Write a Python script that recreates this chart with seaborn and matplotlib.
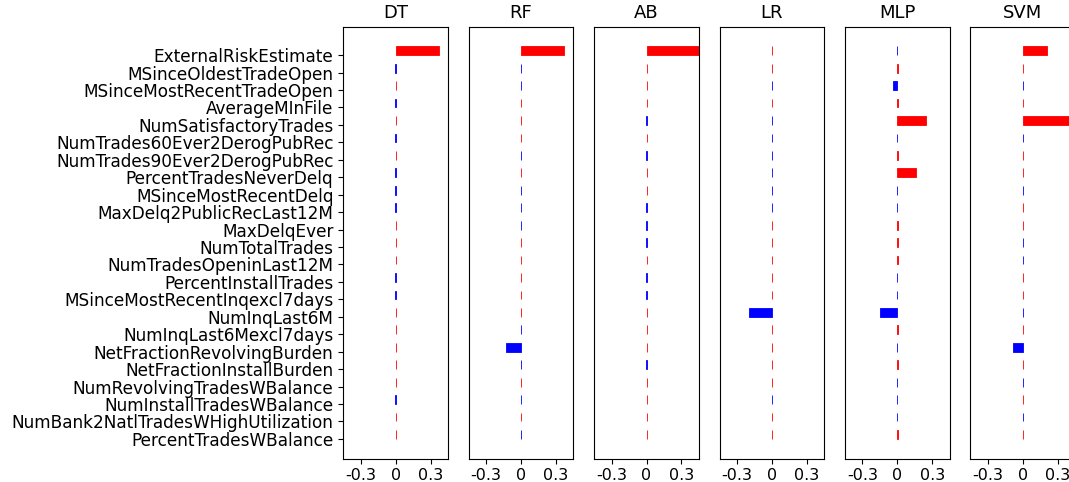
import numpy as np
import pandas as pd
import matplotlib
matplotlib.use("Agg")
import matplotlib.pyplot as plt
import seaborn as sns

# Feature names (top to bottom)
features = [
    "ExternalRiskEstimate", "MSinceOldestTradeOpen", "MSinceMostRecentTradeOpen",
    "AverageMInFile", "NumSatisfactoryTrades", "NumTrades60Ever2DerogPubRec",
    "NumTrades90Ever2DerogPubRec", "PercentTradesNeverDelq", "MSinceMostRecentDelq",
    "MaxDelq2PublicRecLast12M", "MaxDelqEver", "NumTotalTrades",
    "NumTradesOpeninLast12M", "PercentInstallTrades", "MSinceMostRecentInqexcl7days",
    "NumInqLast6M", "NumInqLast6Mexcl7days", "NetFractionRevolvingBurden",
    "NetFractionInstallBurden", "NumRevolvingTradesWBalance", "NumInstallTradesWBalance",
    "NumBank2NatlTradesWHighUtilization", "PercentTradesWBalance",
]

models = ["DT", "RF", "AB", "LR", "MLP", "SVM"]

# Feature effects per model (near-zero ones are tiny +/- values)
dt = [0.37, -0.001, 0.001, -0.001, 0.001, -0.001, 0.001, -0.001, -0.001, -0.001, 0.001, 0.001,
      0.001, -0.001, -0.001, 0.001, 0.001, 0.001, 0.001, 0.001, -0.001, 0.001, 0.001]
rf = [0.37, -0.001, -0.001, 0.001, 0.001, 0.001, -0.001, 0.001, -0.001, -0.001, -0.001, 0.001,
      0.001, 0.001, 0.001, 0.001, -0.001, -0.13, -0.001, 0.001, -0.001, 0.001, -0.001]
ab = [0.50, 0.001, 0.001, 0.001, -0.001, 0.001, -0.001, 0.001, 0.001, -0.001, -0.001, -0.001,
      0.001, -0.001, -0.001, 0.001, 0.001, 0.001, -0.001, 0.001, 0.001, 0.001, 0.001]
lr = [0.001, 0.001, -0.001, 0.001, -0.001, -0.001, -0.001, -0.001, -0.001, -0.001, 0.001, 0.001,
      0.001, 0.001, 0.001, -0.20, 0.001, 0.001, 0.001, 0.001, -0.001, 0.001, 0.001]
mlp = [-0.001, 0.001, -0.034, 0.001, 0.245, -0.001, 0.001, 0.16, -0.001, -0.001, 0.001, 0.001,
       0.001, -0.001, -0.001, -0.15, 0.001, -0.001, 0.001, -0.001, -0.001, -0.001, 0.001]
svm = [0.205, 0.001, -0.001, 0.001, 0.50, -0.001, 0.001, 0.001, -0.001, 0.001, 0.001, -0.001,
       -0.001, 0.001, 0.001, -0.001, 0.001, -0.086, 0.001, -0.001, 0.001, -0.001, 0.001]

values = [dt, rf, ab, lr, mlp, svm]

fig, axes = plt.subplots(1, 6, figsize=(10.69, 4.82), dpi=100)
fig.subplots_adjust(left=0.321, right=1.0059, bottom=0.0487, top=0.9446, wspace=0.196)

n = len(features)
for ax, name, vals in zip(axes, models, values):
    df = pd.DataFrame({"feature": features, "value": vals})
    df["sign"] = np.where(df["value"] > 0, "pos", "neg")
    sns.barplot(data=df, x="value", y="feature", hue="sign", orient="h",
                palette={"pos": "red", "neg": "blue"}, saturation=1,
                width=0.5, errorbar=None, legend=False, dodge=False, ax=ax)
    for p in ax.patches:
        p.set_edgecolor(p.get_facecolor())
        p.set_linewidth(0.6)
    ax.set_xlim(-0.45, 0.45)
    ax.set_xticks([-0.3, 0, 0.3], ["-0.3", "0", "0.3"], fontsize=11.5)
    # tick sits at the lower edge of each bar
    ax.set_yticks(np.arange(n) + 0.25)
    ax.set_ylim(n - 1 + 0.25 + 1.125, 0.25 - 1.625)
    ax.set_xlabel("")
    ax.set_ylabel("")
    ax.set_title(name, fontsize=13)
    if ax is axes[0]:
        ax.set_yticklabels(features, fontsize=12.2)
    else:
        ax.set_yticklabels([])
        ax.tick_params(axis="y", left=False)

plt.savefig("out.png", dpi=100)
